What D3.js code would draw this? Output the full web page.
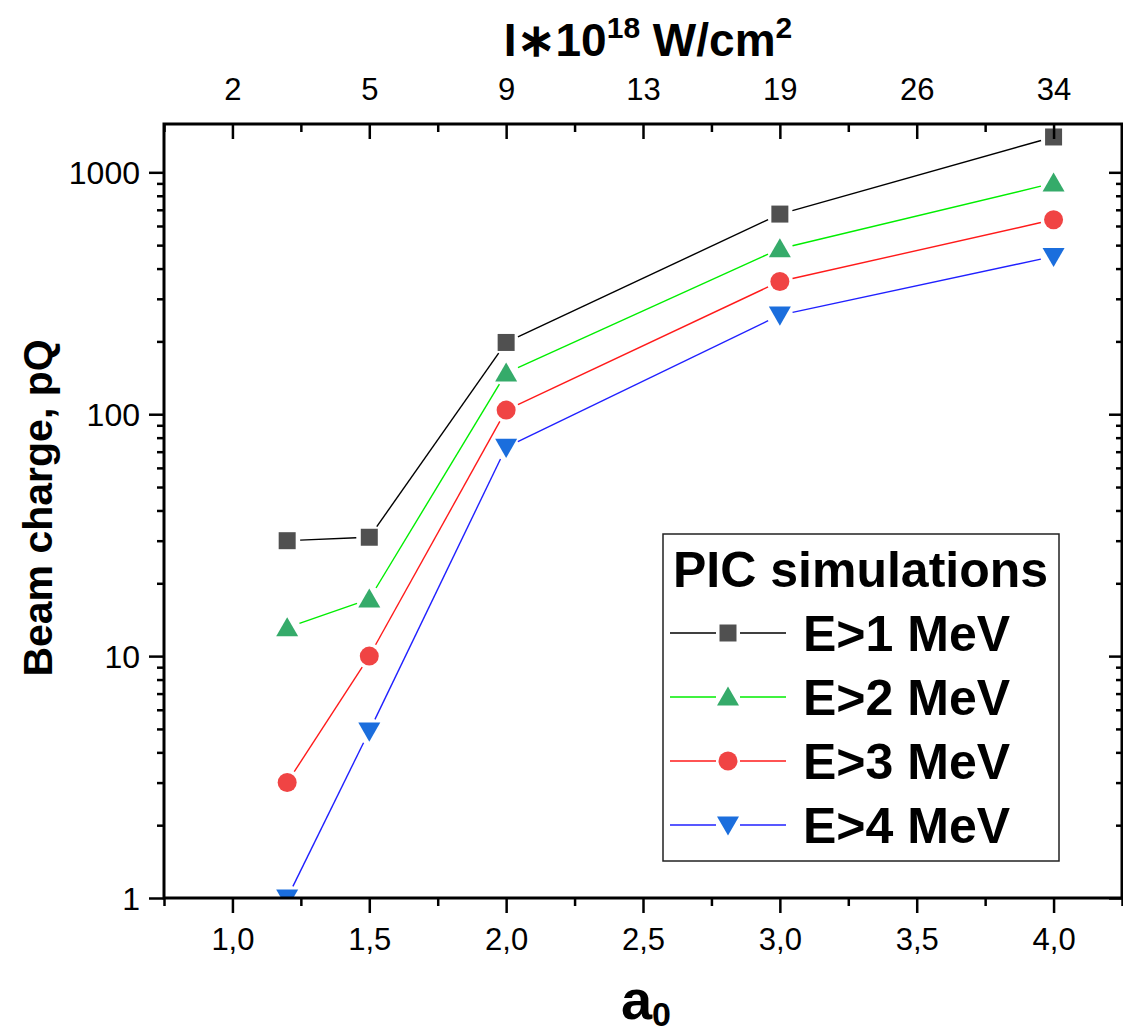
<!DOCTYPE html>
<html>
<head>
<meta charset="utf-8">
<script src="https://cdn.jsdelivr.net/npm/d3@7"></script>
<style>
  html, body { margin: 0; padding: 0; background: #fff; }
  svg { display: block; }
  text { font-family: "Liberation Sans", Arial, sans-serif; fill: #000; }
</style>
</head>
<body>
<svg id="chart" width="1123" height="1032"></svg>
<script>
// Normalised vector potential a0 of the laser pulse
const a0 = [1.2, 1.5, 2.0, 3.0, 4.0];

// Beam charge (pQ) above each energy threshold, PIC simulations
const chargeE1 = [30, 31, 198, 672, 1400];
const chargeE2 = [13.1, 17.2, 148, 483, 902];
const chargeE3 = [3.0, 10, 104, 354, 637];
const chargeE4 = [1.0, 4.9, 73, 257, 449];

const seriesNames = ["E>1 MeV", "E>2 MeV", "E>3 MeV", "E>4 MeV"];

// Bottom axis ticks and the matching intensities on the top axis
const a0Ticks = [1.0, 1.5, 2.0, 2.5, 3.0, 3.5, 4.0];
const intensityLabels = ["2", "5", "9", "13", "19", "26", "34"];
const chargeTicks = [1, 10, 100, 1000];

const series = [
  { name: seriesNames[0], values: chargeE1, line: "#000000", fill: "#505050", shape: "square" },
  { name: seriesNames[1], values: chargeE2, line: "#00ee00", fill: "#35ab6a", shape: "up" },
  { name: seriesNames[2], values: chargeE3, line: "#ff1a1a", fill: "#f04444", shape: "circle" },
  { name: seriesNames[3], values: chargeE4, line: "#2020ff", fill: "#1b6edd", shape: "down" }
];

const svg = d3.select("#chart");
const plotL = 164, plotR = 1122, plotT = 124, plotB = 898;

const x = d3.scaleLinear().domain([0.75, 4.25]).range([plotL, plotR]);
const y = d3.scaleLog().domain([1, 1584]).range([plotB, plotT]);

// marker shapes
const symbolFor = {
  square: d3.symbol().type(d3.symbolSquare).size(17 * 17),
  up: d3.symbol().type(d3.symbolTriangle).size(0.433 * 22 * 22),
  down: d3.symbol().type(d3.symbolTriangle).size(0.433 * 22 * 22),
  circle: d3.symbol().type(d3.symbolCircle).size(Math.PI * 9.5 * 9.5)
};
function markerTransform(shape, cx, cy) {
  // triangles are centred on their bounding box rather than their centroid
  if (shape === "up") return `translate(${cx},${cy + 2.1})`;
  if (shape === "down") return `translate(${cx},${cy - 2.1}) rotate(180)`;
  return `translate(${cx},${cy})`;
}

svg.append("defs").append("clipPath").attr("id", "plot-clip")
  .append("rect").attr("x", plotL).attr("y", plotT)
  .attr("width", plotR - plotL).attr("height", plotB - plotT);

const plot = svg.append("g").attr("clip-path", "url(#plot-clip)");

// connecting lines, stopping short of each marker
const gap = 13;
series.forEach(s => {
  const pts = a0.map((v, i) => [x(v), y(s.values[i])]);
  for (let i = 0; i < pts.length - 1; i++) {
    const [x1, y1] = pts[i], [x2, y2] = pts[i + 1];
    const len = Math.hypot(x2 - x1, y2 - y1);
    const ux = (x2 - x1) / len, uy = (y2 - y1) / len;
    plot.append("line")
      .attr("x1", x1 + ux * gap).attr("y1", y1 + uy * gap)
      .attr("x2", x2 - ux * gap).attr("y2", y2 - uy * gap)
      .attr("stroke", s.line).attr("stroke-width", 1.4);
  }
});

// markers
series.forEach(s => {
  plot.selectAll(null).data(a0.map((v, i) => ({ a: v, q: s.values[i] })))
    .enter().append("path")
    .attr("d", symbolFor[s.shape]())
    .attr("transform", d => markerTransform(s.shape, x(d.a), y(d.q)))
    .attr("fill", s.fill);
});

// ---- axes ----
const a0Minor = d3.range(0.75, 4.26, 0.25).filter(v => Math.abs((v * 2) % 1) > 1e-6);
const qMinor = [];
[1, 10, 100, 1000].forEach(d => {
  for (let k = 2; k <= 9; k++) if (d * k <= 1584) qMinor.push(d * k);
});

const fmtComma = d => d.toFixed(1).replace(".", ",");

// bottom
const gBottom = svg.append("g").attr("transform", `translate(0,${plotB})`);
gBottom.call(d3.axisBottom(x).tickValues(a0Ticks).tickSize(15).tickPadding(15).tickFormat(fmtComma));
gBottom.append("g").call(d3.axisBottom(x).tickValues(a0Minor).tickSize(8).tickFormat(""));

// top
const gTop = svg.append("g").attr("transform", `translate(0,${plotT})`);
gTop.call(d3.axisTop(x).tickValues(a0Ticks).tickSize(-15).tickPadding(24)
  .tickFormat((d, i) => intensityLabels[i]));
gTop.append("g").call(d3.axisTop(x).tickValues(a0Minor).tickSize(-8).tickFormat(""));

// left
const gLeft = svg.append("g").attr("transform", `translate(${plotL},0)`);
gLeft.call(d3.axisLeft(y).tickValues(chargeTicks).tickSize(15).tickPadding(9).tickFormat(d3.format("d")));
gLeft.append("g").call(d3.axisLeft(y).tickValues(qMinor).tickSize(7).tickFormat(""));

// right
const gRight = svg.append("g").attr("transform", `translate(${plotR},0)`);
gRight.call(d3.axisRight(y).tickValues(chargeTicks).tickSize(-13).tickFormat(""));
gRight.append("g").call(d3.axisRight(y).tickValues(qMinor).tickSize(-6).tickFormat(""));

svg.selectAll(".domain").remove();
svg.selectAll(".tick line").attr("stroke", "#000").attr("stroke-width", 2.5);
gBottom.selectAll(".tick text").attr("font-size", 31).attr("font-family", "Liberation Sans, Arial, sans-serif").attr("fill", "#000");
gTop.selectAll(".tick text").attr("font-size", 31).attr("font-family", "Liberation Sans, Arial, sans-serif").attr("fill", "#000");
gLeft.selectAll(".tick text").attr("font-size", 32).attr("font-family", "Liberation Sans, Arial, sans-serif").attr("fill", "#000").attr("dy", "0.36em");

// frame
svg.append("rect").attr("x", plotL).attr("y", plotT)
  .attr("width", plotR - plotL).attr("height", plotB - plotT)
  .attr("fill", "none").attr("stroke", "#000").attr("stroke-width", 3);

// ---- axis titles ----
const topTitle = svg.append("text").attr("x", 648).attr("y", 56)
  .attr("text-anchor", "middle").attr("font-weight", "bold").attr("font-size", 46);
topTitle.append("tspan").text("I\u221710");
topTitle.append("tspan").attr("dy", -18).attr("font-size", 30).text("18");
topTitle.append("tspan").attr("dy", 18).text(" W/cm");
topTitle.append("tspan").attr("dy", -18).attr("font-size", 30).text("2");

const xTitle = svg.append("text").attr("x", 646).attr("y", 1019)
  .attr("text-anchor", "middle").attr("font-weight", "bold").attr("font-size", 56);
xTitle.append("tspan").text("a");
xTitle.append("tspan").attr("dy", 7).attr("font-size", 34).text("0");

svg.append("text")
  .attr("transform", `translate(52,508) rotate(-90)`)
  .attr("text-anchor", "middle").attr("font-weight", "bold").attr("font-size", 41)
  .text("Beam charge, pQ");

// ---- legend ----
const lg = svg.append("g");
lg.append("rect").attr("x", 663).attr("y", 534).attr("width", 396).attr("height", 327)
  .attr("fill", "#fff").attr("stroke", "#222").attr("stroke-width", 1.5);
lg.append("text").attr("x", 673).attr("y", 587)
  .attr("font-weight", "bold").attr("font-size", 50).text("PIC simulations");

series.forEach((s, i) => {
  const cy = 633 + i * 64;
  lg.append("line").attr("x1", 670).attr("x2", 716).attr("y1", cy).attr("y2", cy)
    .attr("stroke", s.line).attr("stroke-width", 1.4);
  lg.append("line").attr("x1", 740).attr("x2", 786).attr("y1", cy).attr("y2", cy)
    .attr("stroke", s.line).attr("stroke-width", 1.4);
  lg.append("path").attr("d", symbolFor[s.shape]())
    .attr("transform", markerTransform(s.shape, 728, cy)).attr("fill", s.fill);
  lg.append("text").attr("x", 803).attr("y", cy + 18)
    .attr("font-weight", "bold").attr("font-size", 50).text(s.name);
});
</script>
</body>
</html>
